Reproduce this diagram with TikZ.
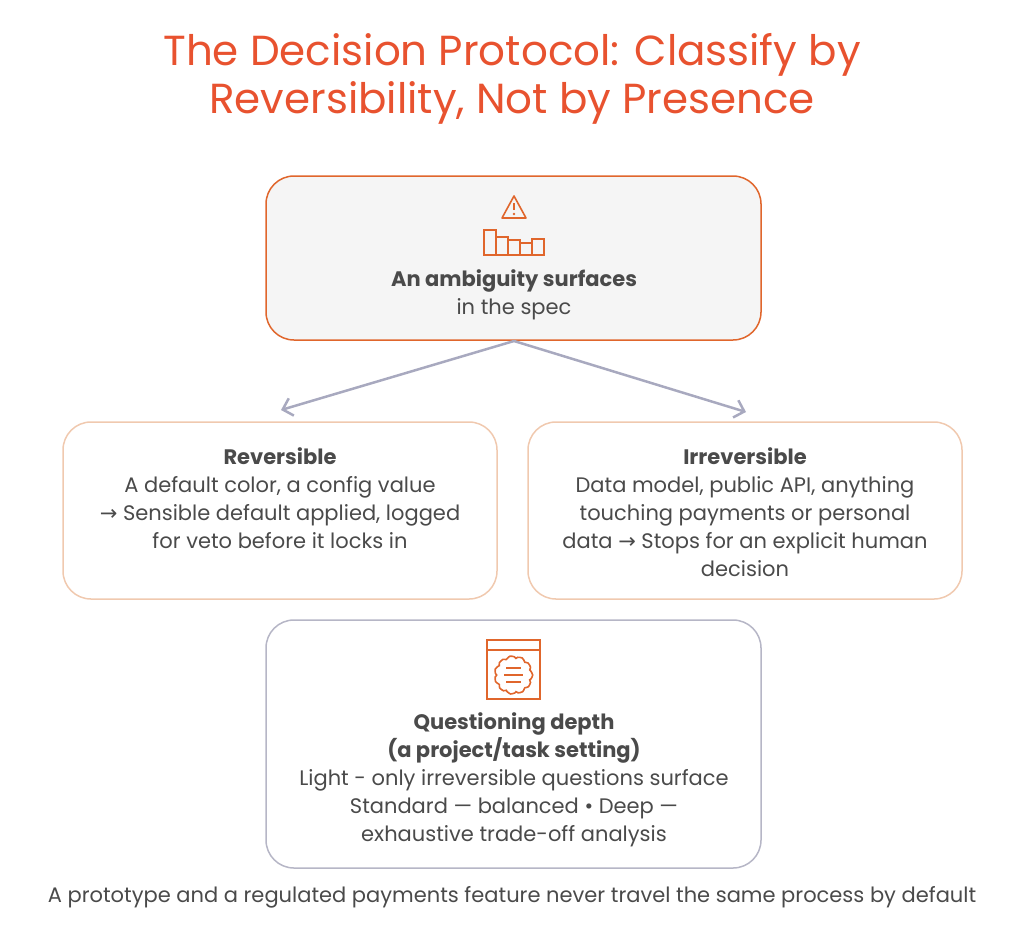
\documentclass[tikz,border=0pt]{standalone}
\usepackage{fontspec}
\setmainfont{Poppins}
\newfontfamily\djv{DejaVu Sans}
\newcommand{\rarr}{{\djv →}}
\usetikzlibrary{arrows.meta}
\definecolor{org}{HTML}{E0662C}
\definecolor{lorg}{HTML}{F0C9AF}
\definecolor{gry}{HTML}{B6B6C6}
\definecolor{arr}{HTML}{A8A9BF}
\definecolor{txt}{HTML}{4A4A4A}
\definecolor{ttl}{HTML}{E8522F}
\begin{document}
\begin{tikzpicture}[x=1pt,y=-1pt,
  box/.style={rounded corners=28pt,line width=1.5pt},
  t/.style={text=txt,font=\fontsize{21}{28}\selectfont,align=center},
  ic/.style={draw=org,line width=1.6pt}]
\useasboundingbox (0,0) rectangle (1024,943);
\node[text=ttl,font=\fontsize{42}{48}\selectfont,align=center] (title) at (512,79) {The Decision Protocol: Classify by\\Reversibility, Not by Presence};
\draw[box,draw=org,fill=gray!8] (266,176) rectangle (761,340);
\node (top) at (514,340) {};
\draw[ic,line join=round] (514,196) -- (526,218) -- (502,218) -- cycle;
\draw[org,line width=1.6pt] (514,203) -- (514,210);
\fill[org] (514,214) circle (1.3);
\draw[ic] (484,230) rectangle (496,255) (496,237) rectangle (508,255) (508,240) rectangle (520,255) (520,243) rectangle (532,255) (532,239) rectangle (544,255);
\node[t] (q) at (514,295) {\textbf{An ambiguity surfaces}\\in the spec};
\draw[box,draw=lorg] (63,422) rectangle (497,599);
\node[t] (rev) at (280,498) {\textbf{Reversible}\\A default color, a config value\\\rarr{} Sensible default applied, logged\\for veto before it locks in};
\draw[box,draw=lorg] (528,422) rectangle (962,599);
\node[t] (irr) at (745,512) {\textbf{Irreversible}\\Data model, public API, anything\\touching payments or personal\\data \rarr{} Stops for an explicit human\\decision};
\coordinate (la) at (281,410);
\coordinate (ra) at (746,412);
\draw[arr,line width=2.5pt,-{Straight Barb[length=9pt,width=18pt]}] (514,341) -- (la);
\draw[arr,line width=2.5pt,-{Straight Barb[length=9pt,width=18pt]}] (514,341) -- (ra);
\draw[box,draw=gry] (266,620) rectangle (761,868);
\draw[ic] (487,640) rectangle (540,699) (487,650) -- (540,650);
\draw[ic] plot[smooth cycle,samples=40,domain=0:350] ({513.5+18*cos(\x)+1.2*cos(12*\x)},{675+18*sin(\x)+1.2*sin(12*\x)});
\draw[org,line width=1.6pt] (506,668) -- (521,668) (504,675) -- (523,675) (506,682) -- (521,682);
\node[t] (depth) at (514,780) {\textbf{Questioning depth}\\\textbf{(a project/task setting)}\\Light - only irreversible questions surface\\Standard — balanced • Deep —\\exhaustive trade-off analysis};
\node[t] (foot) at (512,897) {A prototype and a regulated payments feature never travel the same process by default};
\end{tikzpicture}
\end{document}
